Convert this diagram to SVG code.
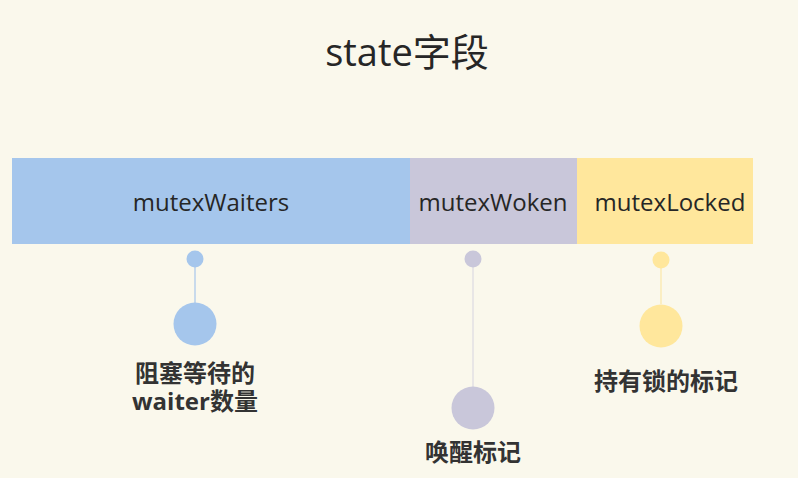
<svg xmlns="http://www.w3.org/2000/svg" width="798" height="478" viewBox="0 0 798 478">
<style>
.t{font-family:"Open Sans","Noto Sans CJK SC",sans-serif;fill:#262626;text-anchor:middle}
.bar{font-size:24px;font-weight:500}
.lbl{font-family:"Open Sans","Noto Sans CJK SC",sans-serif;font-size:24px;font-weight:bold;fill:#333;text-anchor:middle}
</style>
<rect width="798" height="478" fill="#FAF8EC"/>
<text class="t" x="407" y="66" font-size="38">state字段</text>
<g id="connectors">
<line x1="195" y1="266" x2="195" y2="303" stroke="#A7C7EC" stroke-width="1.2"/>
<line x1="473" y1="266" x2="473" y2="387" stroke="#DCDBE3" stroke-width="1.2"/>
<line x1="661" y1="267" x2="661" y2="304" stroke="#FBE8A8" stroke-width="1.2"/>
</g>
<g id="mutexWaiters">
<rect x="12" y="158" width="398" height="86" fill="#A5C6EC"/>
<text class="t bar" x="211" y="211">mutexWaiters</text>
</g>
<g id="mutexWoken">
<rect x="410" y="158" width="167" height="86" fill="#C9C7DA"/>
<text class="t bar" x="493" y="211">mutexWoken</text>
</g>
<g id="mutexLocked">
<rect x="577" y="158" width="176" height="86" fill="#FFE79C"/>
<text class="t bar" x="670" y="211">mutexLocked</text>
</g>
<g id="waiters-marker">
<circle cx="195" cy="259" r="8.5" fill="#A5C6EC"/>
<circle cx="195" cy="324" r="21.5" fill="#A5C6EC"/>
<text class="lbl" x="195" y="382">阻塞等待的</text>
<text class="lbl" x="195" y="410">waiter数量</text>
</g>
<g id="woken-marker">
<circle cx="473" cy="259" r="8.5" fill="#C9C7DA"/>
<circle cx="473" cy="408" r="21.5" fill="#C9C7DA"/>
<text class="lbl" x="473" y="461">唤醒标记</text>
</g>
<g id="locked-marker">
<circle cx="661" cy="260" r="8.5" fill="#FFE79C"/>
<circle cx="661" cy="326" r="21.5" fill="#FFE79C"/>
<text class="lbl" x="666" y="390">持有锁的标记</text>
</g>
</svg>
